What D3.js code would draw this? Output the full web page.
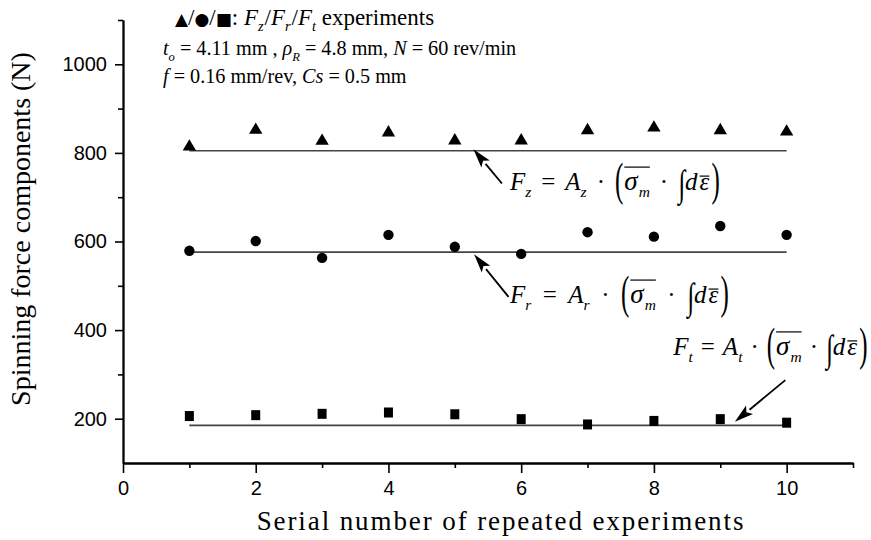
<!DOCTYPE html>
<html>
<head>
<meta charset="utf-8">
<script src="https://cdnjs.cloudflare.com/ajax/libs/d3/7.8.5/d3.min.js"></script>
<style>
  body { margin: 0; background: #fff; }
  text { font-family: "Liberation Serif", "Times New Roman", serif; fill: #000; white-space: pre; }
  .tick text { font-family: "Liberation Sans", Arial, sans-serif; font-size: 20px; }
</style>
</head>
<body>
<svg id="chart"></svg>
<script>
// Data
const experiments = [1, 2, 3, 4, 5, 6, 7, 8, 9, 10];
const fzValues = [818, 856, 831, 850, 832, 832, 855, 861, 855, 852];
const frValues = [579, 601, 563, 615, 588, 572, 621, 611, 635, 615];
const ftValues = [206, 208, 211, 214, 210, 199, 187, 195, 199, 191];
const modelValues = [805, 576, 185];   // Fz, Fr, Ft model lines
const xTicks = [0, 2, 4, 6, 8, 10];
const xMinorTicks = [1, 3, 5, 7, 9, 11];
const yTicks = [200, 400, 600, 800, 1000];
const yMinorTicks = [300, 500, 700, 900, 1100];

const width = 871, height = 540;
const svg = d3.select("#chart").attr("width", width).attr("height", height);

const x = d3.scaleLinear().domain([0, 11]).range([123, 853]);
const y = d3.scaleLinear().domain([100, 1100]).range([463, 20]);

// Axes (major + minor ticks)
svg.append("g").attr("transform", `translate(0,${y(100)})`)
    .call(d3.axisBottom(x).tickValues(xTicks).tickSize(10).tickPadding(8).tickSizeOuter(0));
svg.append("g").attr("transform", `translate(0,${y(100)})`)
    .call(d3.axisBottom(x).tickValues(xMinorTicks).tickSize(5).tickFormat("").tickSizeOuter(0));
svg.append("g").attr("transform", `translate(${x(0)},0)`)
    .call(d3.axisLeft(y).tickValues(yTicks).tickSize(8).tickPadding(8).tickSizeOuter(0).tickFormat(d3.format("d")));
svg.append("g").attr("transform", `translate(${x(0)},0)`)
    .call(d3.axisLeft(y).tickValues(yMinorTicks).tickSize(5).tickFormat("").tickSizeOuter(0));
svg.selectAll(".domain").attr("stroke", "#000").attr("stroke-width", 1.8);
svg.selectAll(".tick line").attr("stroke", "#000").attr("stroke-width", 1.6);

// Axis titles
svg.append("text")
    .attr("transform", `translate(30,${229}) rotate(-90)`)
    .attr("text-anchor", "middle")
    .style("font-size", "28px")
    .text("Spinning force components (N)");
svg.append("text")
    .attr("x", 501).attr("y", 530)
    .attr("text-anchor", "middle")
    .style("font-size", "27px")
    .style("letter-spacing", "1.9px")
    .text("Serial number of repeated experiments");

// Model lines
const flat = v => d3.line().x(d => x(d)).y(() => y(v));
svg.selectAll(".model")
    .data(modelValues)
    .enter().append("path")
    .attr("class", "model")
    .attr("fill", "none")
    .attr("stroke", "#444")
    .attr("stroke-width", 1.6)
    .attr("d", v => flat(v)(experiments));

// Triangle centred on its bounding box
const triangleBox = {
    draw(ctx, size) {
        const w = Math.sqrt(size * 2 / 0.85), h = w * 0.85;
        ctx.moveTo(0, -h / 2);
        ctx.lineTo(w / 2, h / 2);
        ctx.lineTo(-w / 2, h / 2);
        ctx.closePath();
    }
};
svg.selectAll(".fz")
    .data(fzValues)
    .enter().append("path")
    .attr("class", "fz")
    .attr("transform", (d, i) => `translate(${x(experiments[i])},${y(d)})`)
    .attr("d", d3.symbol(triangleBox, 76));

svg.selectAll(".fr")
    .data(frValues)
    .enter().append("circle")
    .attr("class", "fr")
    .attr("cx", (d, i) => x(experiments[i]))
    .attr("cy", d => y(d))
    .attr("r", 5.2);

svg.selectAll(".ft")
    .data(ftValues)
    .enter().append("rect")
    .attr("class", "ft")
    .attr("x", (d, i) => x(experiments[i]) - 4.5)
    .attr("y", d => y(d) - 5)
    .attr("width", 9)
    .attr("height", 10);

// Arrows (data coordinates: tail -> tip)
const arrows = [
    { from: [5.71, 731], to: [5.28, 808] },
    { from: [5.81, 475], to: [5.29, 571] },
    { from: [9.98, 287], to: [9.22, 193] }
];
arrows.forEach(a => {
    const x1 = x(a.from[0]), y1 = y(a.from[1]), x2 = x(a.to[0]), y2 = y(a.to[1]);
    const ang = Math.atan2(y2 - y1, x2 - x1);
    const L = 19, W = 5.5;
    const bx = x2 - L * Math.cos(ang), by = y2 - L * Math.sin(ang);
    svg.append("line")
        .attr("x1", x1).attr("y1", y1).attr("x2", bx).attr("y2", by)
        .attr("stroke", "#000").attr("stroke-width", 1.8);
    svg.append("polygon")
        .attr("points", [
            [x2, y2],
            [bx + W * Math.sin(ang), by - W * Math.cos(ang)],
            [bx + 4 * Math.cos(ang), by + 4 * Math.sin(ang)],
            [bx - W * Math.sin(ang), by + W * Math.cos(ang)]
        ].map(p => p.join(",")).join(" "))
        .attr("fill", "#000");
});

// Rich text: pieces placed one after another
function richText(parent, x0, y0, parts, size, ovY) {
    const g = parent.append("g").attr("transform", `translate(${x0},${y0})`);
    let cx = 0;
    const spans = {};
    parts.forEach(p => {
        cx += p.dx || 0;
        const fs = p.size || (p.sub ? size * 0.62 : size);
        const dy = (p.dy || 0) + (p.sub ? size * 0.28 : 0);
        const t = g.append("text")
            .attr("transform", `translate(${cx},${dy}) scale(1,${p.sy || 1})`)
            .style("font-size", fs + "px")
            .style("font-style", p.i ? "italic" : "normal")
            .text(p.t);
        if (p.family) t.style("font-family", p.family);
        const w = t.node().getComputedTextLength();
        if (p.ov) (spans[p.ov] = spans[p.ov] || []).push(cx, cx + w);
        cx += w;
    });
    Object.keys(spans).forEach(k => {
        g.append("line")
            .attr("x1", d3.min(spans[k])).attr("x2", d3.max(spans[k]))
            .attr("y1", ovY[k]).attr("y2", ovY[k])
            .attr("stroke", "#000").attr("stroke-width", 1.2);
    });
    return g;
}

function formulaParts(sub, gap) {
    return [
        { t: "F", i: true }, { t: sub, i: true, sub: true },
        { t: "=", dx: gap },
        { t: "A", i: true, dx: gap }, { t: sub, i: true, sub: true },
        { t: "·", dx: gap },
        { t: "(", dx: gap, sy: 1.9, dy: 5 },
        { t: "σ", i: true, ov: "a", dx: 1, size: 27 }, { t: "m", i: true, sub: true, ov: "a", dx: 1 },
        { t: "·", dx: gap },
        { t: "∫", dx: gap, sy: 1.5, dy: 6 },
        { t: "d", i: true }, { t: "ε", i: true, ov: "b", dx: 2 },
        { t: ")", dx: 2, sy: 1.9, dy: 5 }
    ];
}
const ovY = { a: -23, b: -14 };
const formulas = [
    { at: [5.83, 716], sub: "z", gap: 10 },
    { at: [5.83, 461], sub: "r", gap: 11.5 },
    { at: [8.29, 344], sub: "t", gap: 8 }
];
formulas.forEach(f => richText(svg, x(f.at[0]), y(f.at[1]), formulaParts(f.sub, f.gap), 25, ovY));

// Legend / conditions
const symFont = "'DejaVu Sans', sans-serif";
richText(svg, 175, 25, [
    { t: "▲", size: 17, family: symFont }, { t: "/" },
    { t: "●", size: 17, family: symFont }, { t: "/" },
    { t: "■", size: 17, family: symFont }, { t: ": " },
    { t: "F", i: true }, { t: "z", i: true, sub: true }, { t: "/", dx: 1 },
    { t: "F", i: true }, { t: "r", i: true, sub: true }, { t: "/", dx: 1 },
    { t: "F", i: true }, { t: "t", i: true, sub: true },
    { t: " experiments" }
], 23, {});
richText(svg, 163, 55, [
    { t: "t", i: true }, { t: "o", i: true, sub: true },
    { t: " = 4.11 mm , " },
    { t: "ρ", i: true }, { t: "R", i: true, sub: true },
    { t: " = 4.8 mm, " },
    { t: "N", i: true },
    { t: " = 60 rev/min" }
], 20.2, {});
richText(svg, 163, 83, [
    { t: "f", i: true },
    { t: " = 0.16 mm/rev, " },
    { t: "Cs", i: true },
    { t: " = 0.5 mm" }
], 20.2, {});
</script>
</body>
</html>
